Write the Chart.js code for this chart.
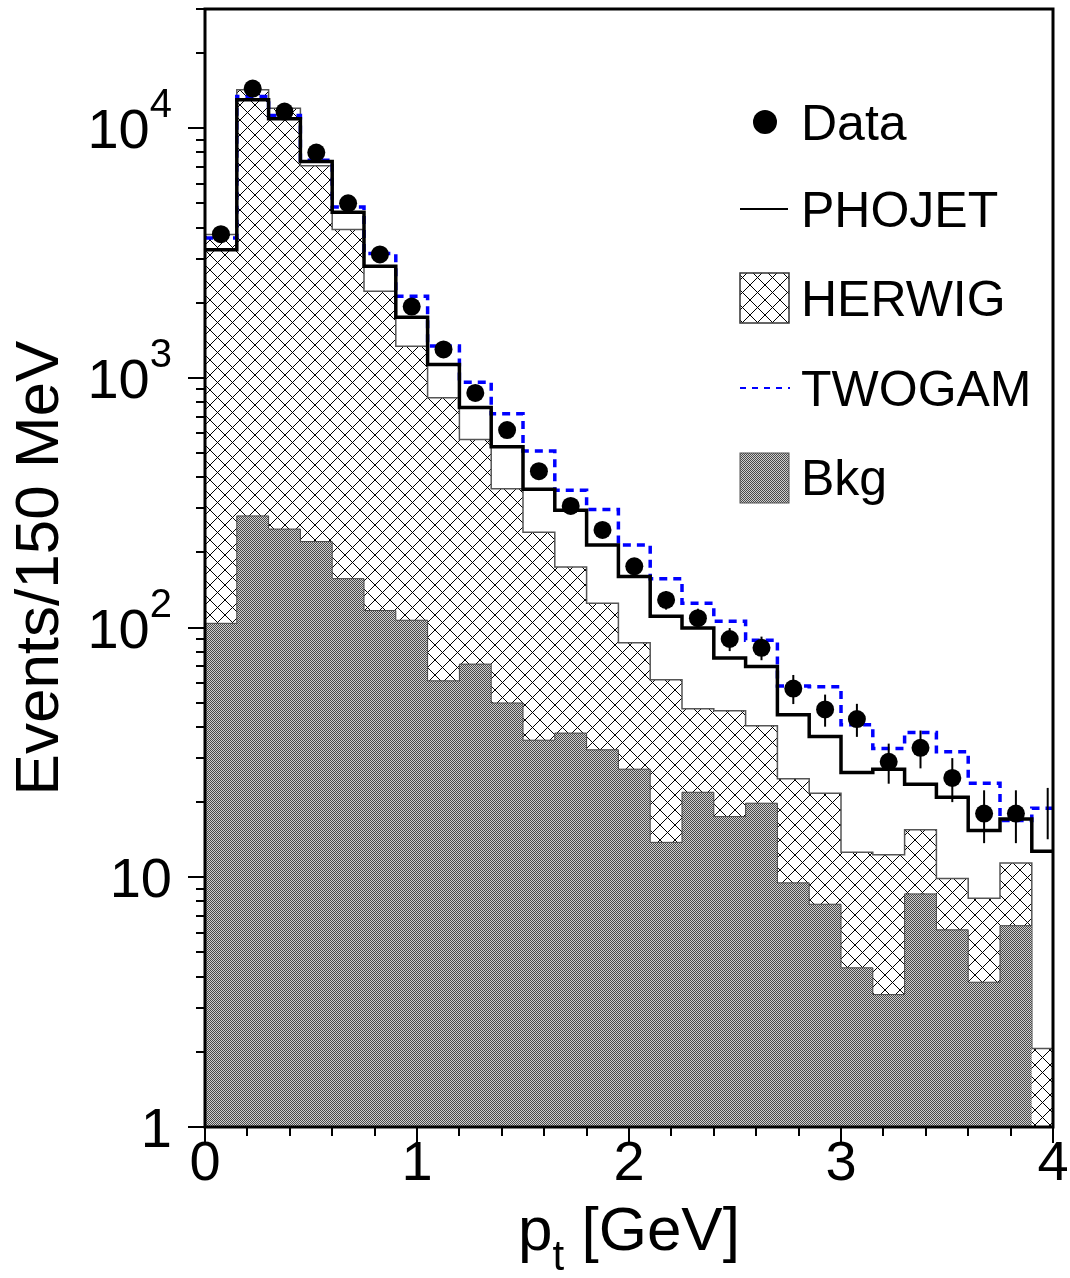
<!DOCTYPE html>
<html>
<head>
<meta charset="utf-8">
<script src="https://cdn.jsdelivr.net/npm/chart.js@4.4.0/dist/chart.umd.min.js"></script>
<style>
  html, body { margin: 0; padding: 0; background: #fff; }
  canvas { display: block; }
</style>
</head>
<body>
<canvas id="pt-chart" width="1070" height="1278"></canvas>
<script>
// bin lower edges in GeV (150 MeV bins)
const binLow = [0, 0.15, 0.3, 0.45, 0.6, 0.75, 0.9, 1.05, 1.2, 1.35, 1.5, 1.65, 1.8, 1.95,
                2.1, 2.25, 2.4, 2.55, 2.7, 2.85, 3.0, 3.15, 3.3, 3.45, 3.6, 3.75, 3.9];
const binWidth = 0.15;

const dataVals = [3760, 14400, 11650, 7980, 5000, 3120, 1930, 1300, 870, 618, 423, 307, 246, 176,
                  129, 109, 90, 83, 57, 47, 43, 29, 33, 25, 18, 18, 18.5];
const dataErr  = [60, 120, 108, 89, 71, 56, 44, 36, 29, 25, 21, 18, 16, 13,
                  11, 10, 9.5, 9, 7.6, 6.9, 6.5, 5.3, 5.7, 5, 4.3, 4.3, 4.3];
const phojet = [3260, 13000, 10900, 7360, 4600, 2800, 1750, 1130, 760, 530, 358, 295, 214, 160,
                111, 99.5, 75.6, 69.8, 44.8, 36.6, 26.3, 27.1, 23.6, 20.9, 15.4, 17.1, 12.7];
const twogam = [3630, 13390, 11240, 7430, 4830, 3145, 2120, 1340, 961, 718, 509, 355, 297, 214,
                157, 125, 106, 89, 58.4, 58, 40.8, 32.8, 38, 31.8, 23.8, 16.9, 18.9];
const herwig = [3750, 14250, 12020, 7070, 3925, 2222, 1339, 832, 567, 360, 241, 175, 125, 87,
                61.8, 47.3, 46.4, 40.4, 24.8, 21.7, 12.6, 12.3, 15.5, 9.9, 8.24, 11.4, 2.06];
const bkg    = [104, 280, 248, 221, 157, 117, 107, 61.2, 71.4, 49.9, 35.4, 37.8, 32.4, 27.1,
                13.8, 21.9, 17.5, 19.8, 9.5, 7.8, 4.34, 3.39, 8.58, 6.16, 3.8, 6.4];

const xTickLabels = ['0', '1', '2', '3', '4'];
const yDecades = [0, 1, 2, 3, 4];

const canvas = document.getElementById('pt-chart');
const ctx = canvas.getContext('2d');

// histogram outline: one point per lower edge, plus the closing edge
function steps(vals) {
  const pts = vals.map((v, i) => ({ x: binLow[i], y: v }));
  pts.push({ x: binLow[vals.length - 1] + binWidth, y: vals[vals.length - 1] });
  return pts;
}

function hatchPattern() {
  const c = document.createElement('canvas');
  c.width = 15; c.height = 15;
  const g = c.getContext('2d');
  g.fillStyle = '#fff';
  g.fillRect(0, 0, 15, 15);
  g.strokeStyle = '#000';
  g.lineWidth = 1;
  g.beginPath();
  g.moveTo(-2, -2); g.lineTo(17, 17);
  g.moveTo(17, -2); g.lineTo(-2, 17);
  g.stroke();
  return ctx.createPattern(c, 'repeat');
}

function dotPattern() {
  const c = document.createElement('canvas');
  c.width = 2; c.height = 2;
  const g = c.getContext('2d');
  g.fillStyle = '#cfcfcf'; g.fillRect(0, 0, 2, 2);
  g.fillStyle = '#4a4a4a'; g.fillRect(0, 0, 1, 1); g.fillRect(1, 1, 1, 1);
  return ctx.createPattern(c, 'repeat');
}

const hatch = hatchPattern();
const dots = dotPattern();

const FONT = 'Liberation Sans, Arial, sans-serif';

const decorations = {
  id: 'decorations',
  beforeDatasetDraw(chart, args) {
    if (args.index !== 0) return;
    const xs = chart.scales.x, ys = chart.scales.y;
    const c = chart.ctx;
    c.save();
    c.strokeStyle = '#000';
    c.lineWidth = 2;
    dataVals.forEach((v, i) => {
      const px = xs.getPixelForValue(binLow[i] + binWidth / 2);
      if (px > chart.chartArea.right) return;
      c.beginPath();
      c.moveTo(px, ys.getPixelForValue(v + dataErr[i]));
      c.lineTo(px, ys.getPixelForValue(Math.max(v - dataErr[i], 1)));
      c.stroke();
    });
    c.restore();
  },
  afterDraw(chart) {
    const c = chart.ctx;
    const a = chart.chartArea;
    const xs = chart.scales.x, ys = chart.scales.y;
    c.save();
    c.strokeStyle = '#000';
    c.fillStyle = '#000';

    // ticks
    c.lineWidth = 2;
    c.beginPath();
    for (let k = 0; k <= 4; k++) {
      for (let m = 1; m <= 9; m++) {
        const v = m * Math.pow(10, k);
        if (v > ys.max) break;
        const py = Math.round(ys.getPixelForValue(v));
        c.moveTo(a.left, py);
        c.lineTo(a.left - (m === 1 ? 17 : 9), py);
      }
    }
    for (let i = 0; i <= 20; i++) {
      const px = Math.round(xs.getPixelForValue(i * 0.2));
      c.moveTo(px, a.bottom);
      c.lineTo(px, a.bottom + (i % 5 === 0 ? 16 : 9));
    }
    c.stroke();

    // frame
    c.lineWidth = 3;
    c.strokeRect(a.left, a.top, a.right - a.left, a.bottom - a.top);

    // x tick labels
    c.font = '56px ' + FONT;
    c.textAlign = 'center';
    c.textBaseline = 'alphabetic';
    xTickLabels.forEach((t, i) => {
      c.fillText(t, xs.getPixelForValue(i), a.bottom + 53);
    });

    // y tick labels with exponents
    const right = a.left - 33;
    yDecades.forEach(k => {
      const py = ys.getPixelForValue(Math.pow(10, k));
      c.textAlign = 'right';
      if (k < 2) {
        c.font = '56px ' + FONT;
        c.fillText(k === 0 ? '1' : '10', right, py + 20);
      } else {
        c.font = '40px ' + FONT;
        const sup = String(k);
        const w = c.measureText(sup).width;
        c.fillText(sup, right, py - 11);
        c.font = '56px ' + FONT;
        c.fillText('10', right - w, py + 20);
      }
    });

    // axis titles
    c.font = '62px ' + FONT;
    c.save();
    c.translate(58, (a.top + a.bottom) / 2);
    c.rotate(-Math.PI / 2);
    c.textAlign = 'center';
    c.fillText('Events/150 MeV', 0, 0);
    c.restore();

    const f1 = '62px ' + FONT, f2 = '42px ' + FONT;
    c.font = f1; const wp = c.measureText('p').width;
    c.font = f2; const wt = c.measureText('t').width;
    c.font = f1; const wr = c.measureText(' [GeV]').width;
    let x0 = (a.left + a.right) / 2 - (wp + wt + wr) / 2;
    c.textAlign = 'left';
    c.fillText('p', x0, 1250);
    c.font = f2;
    c.fillText('t', x0 + wp, 1270);
    c.font = f1;
    c.fillText(' [GeV]', x0 + wp + wt, 1250);

    // legend
    c.font = '50px ' + FONT;
    c.textAlign = 'left';
    const tx = 801;
    c.beginPath();
    c.arc(765, 122, 12, 0, Math.PI * 2);
    c.fill();
    c.fillText('Data', tx, 140);

    c.lineWidth = 2;
    c.beginPath();
    c.moveTo(740, 209); c.lineTo(788, 209);
    c.stroke();
    c.fillText('PHOJET', tx, 227);

    c.fillStyle = hatch;
    c.fillRect(740, 273, 49, 50);
    c.strokeStyle = '#333';
    c.lineWidth = 1.5;
    c.strokeRect(740, 273, 49, 50);
    c.fillStyle = '#000';
    c.fillText('HERWIG', tx, 316);

    c.strokeStyle = '#0000ff';
    c.lineWidth = 2;
    c.setLineDash([6, 6]);
    c.beginPath();
    c.moveTo(740, 388); c.lineTo(790, 388);
    c.stroke();
    c.setLineDash([]);
    c.fillText('TWOGAM', tx, 406);

    c.fillStyle = dots;
    c.fillRect(740, 453, 49, 50);
    c.strokeStyle = '#555';
    c.lineWidth = 1;
    c.strokeRect(740, 453, 49, 50);
    c.fillStyle = '#000';
    c.fillText('Bkg', tx, 495);

    c.restore();
  }
};

new Chart(ctx, {
  type: 'line',
  plugins: [decorations],
  data: {
    datasets: [{
      label: 'Data',
      data: dataVals.map((v, i) => ({ x: binLow[i] + binWidth / 2, y: v })),
      showLine: false,
      pointRadius: c => (c.dataIndex === dataVals.length - 1 ? 0 : 9),
      pointBackgroundColor: '#000',
      pointBorderWidth: 0,
      order: 0
    }, {
      label: 'PHOJET',
      data: steps(phojet),
      stepped: 'before',
      borderColor: '#000',
      borderWidth: 3.5,
      pointRadius: 0,
      fill: false,
      order: 1
    }, {
      label: 'TWOGAM',
      data: steps(twogam),
      stepped: 'before',
      borderColor: '#0000ff',
      borderWidth: 3.5,
      borderDash: [8, 6],
      pointRadius: 0,
      fill: false,
      order: 2
    }, {
      label: 'Bkg',
      data: steps(bkg),
      stepped: 'before',
      borderColor: '#444',
      borderWidth: 1,
      backgroundColor: dots,
      pointRadius: 0,
      fill: 'start',
      order: 3
    }, {
      label: 'HERWIG',
      data: steps(herwig),
      stepped: 'before',
      borderColor: '#555',
      borderWidth: 1.5,
      backgroundColor: hatch,
      pointRadius: 0,
      fill: 'start',
      order: 4
    }]
  },
  options: {
    responsive: false,
    animation: false,
    devicePixelRatio: 1,
    layout: { padding: { left: 0, top: 6, right: 17, bottom: 0 } },
    scales: {
      x: {
        type: 'linear',
        min: 0,
        max: 4,
        grid: { display: false, drawTicks: false },
        border: { display: false },
        ticks: { display: false },
        afterFit: s => { s.height = 151; }
      },
      y: {
        type: 'logarithmic',
        min: 1,
        max: 30000,
        grid: { display: false, drawTicks: false },
        border: { display: false },
        ticks: { display: false },
        afterFit: s => { s.width = 205; }
      }
    },
    plugins: {
      legend: { display: false },
      tooltip: { enabled: false }
    }
  }
});
</script>
</body>
</html>
